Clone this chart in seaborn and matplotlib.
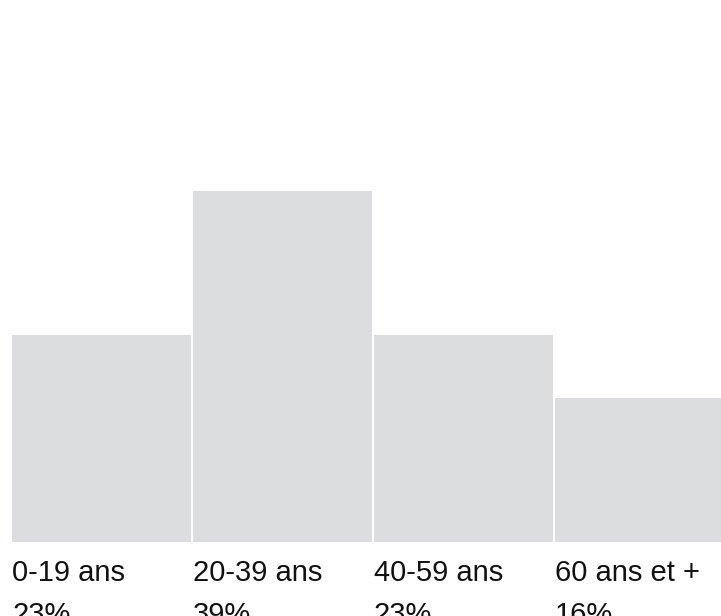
import matplotlib
matplotlib.use("Agg")
import matplotlib.pyplot as plt
import seaborn as sns

# Age groups and their share (%)
groups = ["0-19 ans", "20-39 ans", "40-59 ans", "60 ans et +"]
shares = [23, 39, 23, 16]
share_labels = ["23%", "39%", "23%", "16%"]

sns.set_style("white")
plt.rcParams["font.family"] = ["Liberation Sans", "DejaVu Sans"]

fig = plt.figure(figsize=(7.21, 6.16), dpi=100)
ax = fig.add_axes([0, 0, 1, 1])

bar_w = 0.989
sns.barplot(x=groups, y=shares, color="#dcdddf", saturation=1,
            width=bar_w, linewidth=0, ax=ax)

# layout in pixel terms: 181 px per category, 9 px per percent
ax.set_xlim(-0.561, 3.423)
ax.set_ylim(-74 / 9, 542 / 9)
ax.axis("off")

# labels sit under each bar; the second line runs off the bottom edge,
# as in the original
for i, (g, s) in enumerate(zip(groups, share_labels)):
    x0 = i - bar_w / 2
    ax.text(x0, -39 / 9, g, fontsize=21, ha="left", va="baseline",
            color="#111111", clip_on=False)
    ax.text(x0, -81 / 9, s, fontsize=21, ha="left", va="baseline",
            color="#111111", clip_on=False)

fig.savefig("out.png", dpi=100)
